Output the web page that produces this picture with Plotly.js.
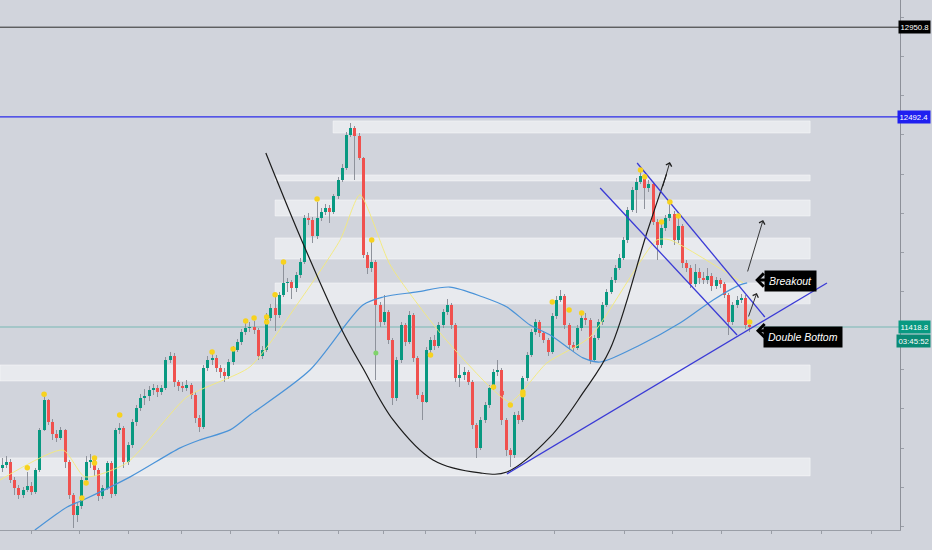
<!DOCTYPE html>
<html>
<head>
<meta charset="utf-8">
<script src="https://cdn.plot.ly/plotly-3.0.1.min.js"></script>
<style>
  html, body { margin: 0; padding: 0; background: #d1d4dc; }
  #chart { width: 932px; height: 550px; }
</style>
</head>
<body>
<div id="chart"></div>
<script>
// ---------------- DATA (prices) ----------------
const opens = [10700,10714,10729,10637,10596,10561,10586,10607,10576,10688,
10893,11046,10934,10872,10852,10893,10729,10561,10458,10504,
10637,10729,10739,10688,10555,10596,10724,10566,10893,10903,
10729,10816,10934,11005,11056,11066,11097,11107,11087,11107,
11250,11271,11138,11118,11107,11123,11072,10954,10908,11210,
11250,11261,11210,11189,11169,11240,11302,11342,11394,11414,
11419,11404,11271,11302,11465,11516,11480,11583,11644,11649,
11618,11685,11751,11976,11966,11884,11976,12007,12027,12007,
12088,12170,12232,12400,12436,12395,12283,11787,11721,11751,
11531,11445,11496,11353,11056,11250,11429,11342,11480,11261,
11072,11036,11302,11353,11322,11429,11496,11531,11429,11158,
11174,11189,11138,10918,10801,10944,11020,11107,11189,11199,
10944,10790,10765,10969,10944,11158,11276,11394,11445,11388,
11353,11291,11475,11557,11577,11429,11327,11312,11414,11465,
11455,11250,11363,11445,11531,11598,11659,11721,11772,11864,
12017,12119,12160,12191,12129,12150,11956,11838,11925,11976,
11997,11864,11935,11746,11721,11639,11700,11669,11659,11680,
11629,11659,11639,11583,11445,11531,11557,11567,11429];

const closes = [10714,10729,10637,10596,10561,10586,10607,10576,10688,10893,
11046,10934,10872,10852,10893,10729,10561,10458,10504,10637,
10729,10739,10688,10555,10596,10724,10566,10893,10903,10729,
10816,10934,11005,11056,11066,11097,11107,11087,11107,11250,
11271,11138,11118,11107,11123,11072,10954,10908,11210,11250,
11261,11210,11189,11169,11240,11302,11342,11394,11414,11419,
11404,11271,11302,11465,11516,11480,11583,11644,11649,11618,
11685,11751,11976,11966,11884,11976,12007,12027,12007,12088,
12170,12232,12400,12436,12395,12283,11787,11721,11751,11531,
11445,11496,11353,11056,11250,11429,11342,11480,11261,11072,
11036,11302,11353,11322,11429,11496,11531,11429,11158,11174,
11189,11138,10918,10801,10944,11020,11107,11189,11199,10944,
10790,10765,10969,10944,11158,11276,11394,11445,11388,11353,
11291,11475,11557,11577,11429,11327,11312,11414,11465,11455,
11250,11363,11445,11531,11598,11659,11721,11772,11864,12017,
12119,12160,12191,12129,12150,11956,11838,11925,11976,11997,
11864,11935,11746,11721,11639,11700,11669,11659,11680,11629,
11659,11639,11583,11445,11531,11557,11567,11429,11418.8];

const highs = [10750,10760,10745,10650,10610,10600,10680,10625,10700,10905,
11065,11050,10950,10890,10910,10900,10740,10570,10520,10650,
10760,10770,10750,10700,10610,10735,10735,10905,10930,10915,
10830,10950,11020,11075,11100,11115,11130,11125,11120,11265,
11290,11285,11150,11140,11150,11135,11085,10970,11225,11270,
11290,11275,11225,11210,11255,11320,11360,11410,11440,11445,
11450,11415,11320,11490,11535,11575,11600,11745,11670,11660,
11700,11770,11990,12000,11980,12060,12025,12045,12040,12100,
12185,12250,12415,12460,12445,12410,12290,11800,11870,11760,
11545,11580,11505,11365,11265,11445,11440,11500,11490,11270,
11085,11315,11370,11380,11445,11510,11560,11540,11440,11230,
11215,11200,11150,10930,10960,11035,11120,11205,11250,11210,
10955,10800,10985,10990,11170,11290,11410,11460,11455,11400,
11365,11490,11575,11610,11590,11440,11340,11430,11480,11490,
11465,11380,11460,11545,11615,11675,11735,11790,11880,12030,
12135,12180,12230,12200,12170,12160,11970,11960,11990,12065,
12010,11990,11945,11760,11735,11740,11720,11700,11720,11695,
11675,11670,11650,11595,11545,11575,11590,11580,11450];

const lows = [10680,10700,10620,10560,10540,10545,10575,10560,10565,10680,
10885,10920,10840,10830,10840,10700,10540,10392,10420,10490,
10620,10700,10660,10530,10540,10585,10545,10555,10870,10700,
10715,10800,10915,10990,11020,11040,11070,11060,11070,11095,
11235,11110,11090,11085,11090,11050,10930,10880,10900,11195,
11225,11190,11160,11140,11155,11225,11290,11325,11380,11395,
11385,11250,11255,11290,11450,11400,11465,11570,11600,11560,
11600,11670,11740,11940,11850,11870,11960,11990,11950,11995,
12075,12160,12220,12390,12170,12270,11770,11690,11700,11148,
11420,11430,11330,11020,11040,11235,11320,11330,11240,11050,
10944,11030,11285,11300,11310,11415,11480,11410,11140,11110,
11150,11120,10900,10750,10790,10930,11005,11095,11170,10920,
10760,10703,10750,10925,10935,11145,11265,11380,11370,11335,
11270,11280,11460,11545,11410,11300,11290,11300,11400,11430,
11230,11240,11350,11430,11520,11585,11645,11710,11760,11850,
12005,12000,12150,12020,12110,11940,11760,11825,11910,11960,
11840,11850,11720,11700,11620,11625,11640,11640,11640,11605,
11615,11620,11565,11378,11430,11515,11540,11410,11395];

// yellow pivot dots (candle index, price)
const dotX = [6,10,19,20,22,22,28,50,55,58,60,63,63,65,67,75,88,102,117,121,124,124,131,135,138,152,153,157,159,161,178];
const dotY = [10700,11075,10545,10622,10749,10724,10969,11291,11307,11450,11465,11470,11445,11583,11751,12073,11864,11276,11112,11020,11087,11072,11547,11506,11491,12221,12186,11956,12058,11986,11445];
const greenDotX = [89];
const greenDotY = [11286];
const redDotX = [119];
const redDotY = [11082];

// yellow smoothed pivot line
const yellowX = [-0.5,14.5,19.7,29.7,44,59,71,80.5,85.2,92.4,104.3,116.2,121,129.7,140,155.9,159,176.4];
const yellowY = [10637,10790,10653,10724,11061,11215,11557,11864,12094,11736,11388,11112,11036,11235,11368,11864,11864,11644];

// blue moving average
const maX = [7.8,15.5,19.3,30.5,42.4,47.1,54.3,59,73.3,85.9,90.7,98.8,106.6,114.5,120.2,125.7,130.5,134.5,138.3,142.4,151.9,161.4,169.3,175.7,177.4];
const maY = [10381,10499,10535,10653,10801,10842,10893,10969,11199,11531,11572,11598,11623,11572,11521,11429,11378,11317,11261,11240,11327,11439,11557,11634,11644];

// cup (rounded bottom) drawing
const cupX = [62.8,71.6,80.9,85.9,93.1,102.6,113.8,120.2,130.5,138.3,144.7,153.5,158.2];
const cupY = [12308,11848,11404,11209,10944,10739,10673,10678,10857,11082,11302,11899,12200];

// trend / channel lines [x0, x1], [y0, y1]
const supportX = [120.2,196.4];  const supportY = [10668,11644];
const chanTopX = [151.2,181.6];  const chanTopY = [12257,11470];
const chanBotX = [142.4,175];    const chanBotY = [12129,11378];

// supply / demand zones: [x0, x1, priceLow, priceHigh]
const zoneX0 = [78.8,65,65,65,65,-0.5,-0.5];
const zoneX1 = [192.4,192.4,192.4,192.4,192.4,192.4,192.4];
const zoneLo = [12410,12165,11986,11766,11537,11143,10658];
const zoneHi = [12472,12196,12068,11874,11644,11225,10750];

// price levels
const levelBlack = 12950.8;
const levelBlue = 12492.4;
const lastPrice = 11418.8;
const countdown = "03:45:52";

// time axis ticks (candle index)
const timeTicks = [6.9,18.5,30.2,42.6,54.3,65.9,80.2,90.7,100.9,112.8,131.6,148.1,159.7,171.4,183.1,195,206.9];

// ---------------- CHART ----------------
const idx = closes.map((_, i) => i);
const up = '#089981', down = '#f0514e';
const bodyColors = closes.map((c, i) => c >= opens[i] ? up : down);
const font = 'Liberation Sans, Arial, sans-serif';

const traces = [
  { type: 'bar', x: idx, base: lows, y: highs.map((h, i) => h - lows[i]),
    width: 0.24, marker: { color: '#8e929b', line: { width: 0 } }, hoverinfo: 'skip' },
  { type: 'bar', x: idx, base: opens, y: closes.map((c, i) => c - opens[i]),
    width: 0.72, marker: { color: bodyColors, line: { width: 0 } }, hoverinfo: 'skip' },
  { type: 'scatter', mode: 'lines', x: yellowX, y: yellowY,
    line: { color: 'rgba(244,234,120,0.9)', width: 1, shape: 'spline', smoothing: 0.6 } },
  { type: 'scatter', mode: 'lines', x: maX, y: maY,
    line: { color: '#4a93d8', width: 1.2, shape: 'spline', smoothing: 0.8 } },
  { type: 'scatter', mode: 'lines', x: cupX, y: cupY,
    line: { color: '#1b1b1b', width: 1.2, shape: 'spline', smoothing: 1 } },
  { type: 'scatter', mode: 'lines', x: supportX, y: supportY, line: { color: '#3a3ad6', width: 1.3 } },
  { type: 'scatter', mode: 'lines', x: chanTopX, y: chanTopY, line: { color: '#3a3ad6', width: 1.3 } },
  { type: 'scatter', mode: 'lines', x: chanBotX, y: chanBotY, line: { color: '#3a3ad6', width: 1.3 } },
  { type: 'scatter', mode: 'markers', x: dotX, y: dotY,
    marker: { color: '#f7d21e', size: 5.5 } },
  { type: 'scatter', mode: 'markers', x: greenDotX, y: greenDotY,
    marker: { color: '#7fd36a', size: 5 } },
  { type: 'scatter', mode: 'markers', x: redDotX, y: redDotY,
    marker: { color: '#f0514e', size: 4, symbol: 'square' } }
];

const shapes = [];
for (let k = 0; k < zoneLo.length; k++) {
  shapes.push({ type: 'rect', layer: 'below', xref: 'x', yref: 'y',
    x0: zoneX0[k], x1: zoneX1[k], y0: zoneLo[k], y1: zoneHi[k],
    fillcolor: 'rgba(255,255,255,0.5)', line: { width: 0.6, color: 'rgba(255,255,255,0.7)' } });
}
shapes.push({ type: 'line', xref: 'paper', yref: 'y', x0: 0, x1: 1, y0: levelBlack, y1: levelBlack,
  line: { color: '#2a2a2a', width: 1 } });
shapes.push({ type: 'line', xref: 'paper', yref: 'y', x0: 0, x1: 1, y0: levelBlue, y1: levelBlue,
  line: { color: '#2b2bea', width: 1.3 } });
shapes.push({ type: 'line', layer: 'below', xref: 'paper', yref: 'y', x0: 0, x1: 1, y0: lastPrice, y1: lastPrice,
  line: { color: 'rgba(8,153,129,0.45)', width: 1 } });

const labelX = 931 / 900;
function axisLabel(yv, txt, bg, extra) {
  return Object.assign({ xref: 'paper', yref: 'y', x: labelX, y: yv, xanchor: 'right', yanchor: 'middle',
    text: txt, showarrow: false, bgcolor: bg, borderpad: 1.5,
    font: { family: font, size: 7.8, color: '#ffffff' } }, extra || {});
}

const annotations = [
  axisLabel(levelBlack, levelBlack.toFixed(1), '#000000'),
  axisLabel(levelBlue, levelBlue.toFixed(1), '#1f1ff0'),
  axisLabel(lastPrice, lastPrice.toFixed(1), '#089981'),
  axisLabel(lastPrice, countdown, '#0a8a75', { yanchor: 'top', yshift: -7 }),
  // text boxes
  { xref: 'x', yref: 'y', x: 187.8, y: 11654, text: '<i>Breakout</i>', showarrow: false,
    bgcolor: '#000000', borderpad: 4, font: { family: font, size: 10.5, color: '#ffffff' } },
  { xref: 'x', yref: 'y', x: 190.6, y: 11370, text: '<i>Double Bottom</i>', showarrow: false,
    bgcolor: '#000000', borderpad: 4, font: { family: font, size: 10.5, color: '#ffffff' } },
  // bold left arrows
  { xref: 'x', yref: 'y', x: 179.3, y: 11659, ax: 17, ay: 0, text: '', showarrow: true,
    arrowhead: 4, arrowsize: 0.85, arrowwidth: 3, arrowcolor: '#000000' },
  { xref: 'x', yref: 'y', x: 179.5, y: 11400, ax: 17, ay: 0, text: '', showarrow: true,
    arrowhead: 4, arrowsize: 0.85, arrowwidth: 3, arrowcolor: '#000000' },
  // thin drawn arrows
  { xref: 'x', yref: 'y', axref: 'x', ayref: 'y', x: 181.2, y: 11966, ax: 177.4, ay: 11695,
    text: '', showarrow: true, arrowhead: 4, arrowsize: 1.3, arrowwidth: 0.9, arrowcolor: '#222222' },
  { xref: 'x', yref: 'y', axref: 'x', ayref: 'y', x: 179.7, y: 11593, ax: 177.6, ay: 11465,
    text: '', showarrow: true, arrowhead: 4, arrowsize: 1.3, arrowwidth: 0.9, arrowcolor: '#222222' },
  { xref: 'x', yref: 'y', axref: 'x', ayref: 'y', x: 159, y: 12262, ax: 157.2, ay: 12130,
    text: '', showarrow: true, arrowhead: 4, arrowsize: 1.3, arrowwidth: 0.9, arrowcolor: '#1b1b1b' }
];

const layout = {
  width: 932, height: 550,
  margin: { l: 0, r: 32, t: 0, b: 20 },
  paper_bgcolor: '#d1d4dc', plot_bgcolor: '#d1d4dc',
  showlegend: false, barmode: 'overlay', bargap: 0,
  xaxis: { range: [-0.5, 213.79], showgrid: false, zeroline: false,
    showline: true, linecolor: '#9a9ea7', linewidth: 1,
    ticks: 'outside', ticklen: 3, tickcolor: '#9a9ea7',
    tickmode: 'array', tickvals: timeTicks, showticklabels: false },
  yaxis: { range: [10381.5, 13089.8], side: 'right', showgrid: false, zeroline: false,
    showline: true, linecolor: '#8d9099', linewidth: 1,
    ticks: 'outside', ticklen: 3, tickcolor: '#9a9ea7',
    tick0: 0, dtick: 200, showticklabels: false },
  shapes: shapes,
  annotations: annotations
};

Plotly.newPlot('chart', traces, layout, { staticPlot: true, displayModeBar: false });
</script>
</body>
</html>
